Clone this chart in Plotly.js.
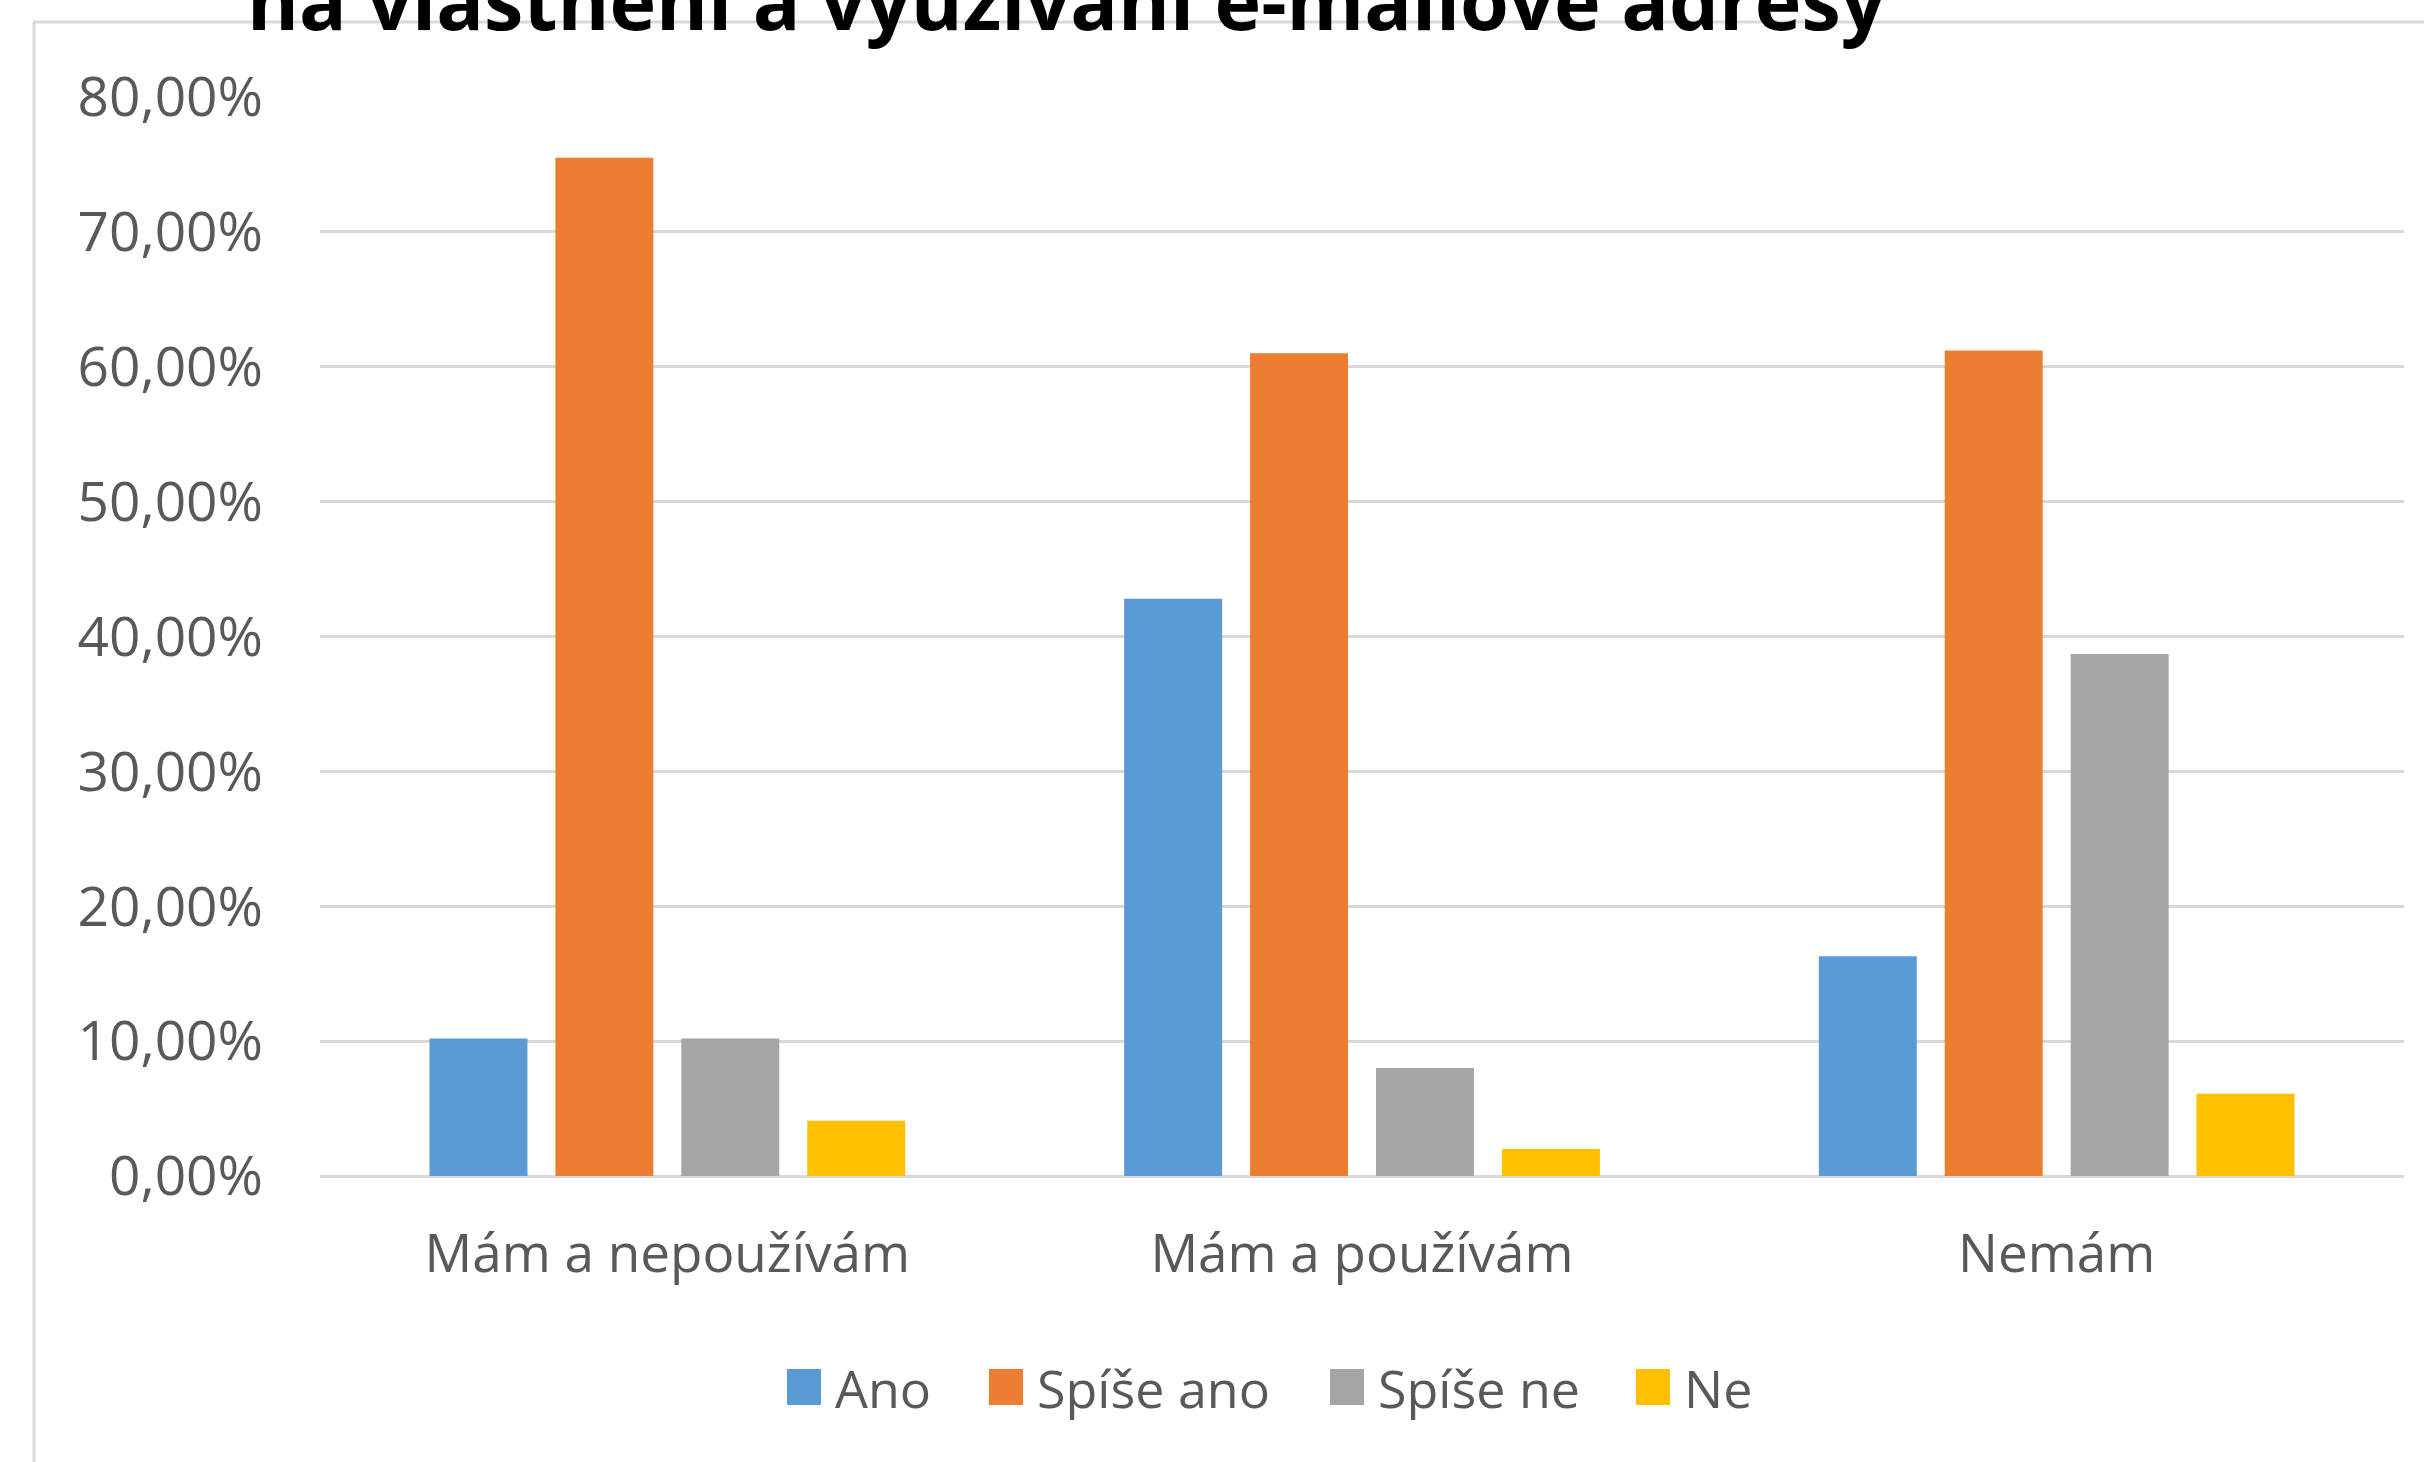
<!DOCTYPE html>
<html>
<head>
<meta charset="utf-8">
<script src="https://cdn.plot.ly/plotly-3.0.1.min.js"></script>
<style>html,body{margin:0;padding:0;background:#fff;}#chart{width:2424px;height:1462px;}</style>
</head>
<body>
<div id="chart"></div>
<script>
// ---- data ----
const categories = ["Mám a nepoužívám", "Mám a používám", "Nemám"];
const seriesNames = ["Ano", "Spíše ano", "Spíše ne", "Ne"];
const ano      = [10.2, 42.8, 16.3];
const spiseAno = [75.5, 61.0, 61.2];
const spiseNe  = [10.2, 8.0, 38.7];
const ne       = [4.1, 2.0, 6.1];
const titleText = "na vlastnění a využívání e-mailové adresy";

// ---- styles / layout constants ----
const colors = ["#5B9BD5", "#ED7D31", "#A5A5A5", "#FFC000"];
const W = 2424, H = 1462;
const PL = 320, PR = 2404, PT = 97, PB = 1176;
const xp = px => (px - PL) / (PR - PL);
const yp = py => (PB - py) / (PB - PT);
const FONT = "'Open Sans', sans-serif";
const TXT = "#595959";
const GRID = "#D9D9D9";

const seriesValues = [ano, spiseAno, spiseNe, ne];
const traces = seriesValues.map((vals, i) => ({
  type: "bar",
  name: seriesNames[i],
  x: categories,
  y: vals,
  marker: {color: colors[i], line: {width: 0}},
  showlegend: false,
  hoverinfo: "x+y+name"
}));

// manual legend (large square swatches)
const legendSwatchX = [787, 989, 1330, 1636];
const legendY0 = 1369, legendY1 = 1405, sw = 34;
const shapes = [
  // chart-area border (left and top)
  {type: "line", xref: "paper", yref: "paper", x0: xp(34), x1: xp(34), y0: yp(22), y1: yp(H + 20), line: {color: GRID, width: 3}, layer: "below"},
  {type: "line", xref: "paper", yref: "paper", x0: xp(33), x1: xp(W + 20), y0: yp(22), y1: yp(22), line: {color: GRID, width: 3}, layer: "below"}
];
const annotations = [];
seriesNames.forEach((n, i) => {
  shapes.push({type: "rect", xref: "paper", yref: "paper",
    x0: xp(legendSwatchX[i]), x1: xp(legendSwatchX[i] + sw),
    y0: yp(legendY1), y1: yp(legendY0),
    fillcolor: colors[i], line: {width: 0}});
  annotations.push({xref: "paper", yref: "paper", x: xp(legendSwatchX[i] + sw + 12), y: yp((legendY0 + legendY1) / 2),
    xanchor: "left", yanchor: "middle", showarrow: false, text: n,
    font: {family: FONT, size: 52, color: TXT}});
});

const layout = {
  width: W, height: H,
  margin: {l: PL, r: W - PR, t: PT, b: H - PB, pad: 0},
  paper_bgcolor: "#ffffff",
  plot_bgcolor: "#ffffff",
  separators: ", ",
  barmode: "group",
  bargap: 0.275,
  bargroupgap: 0.222,
  showlegend: false,
  title: {
    text: titleText,
    font: {family: FONT, size: 79, color: "#000000", weight: 700},
    xref: "container", yref: "container",
    x: 247 / W, xanchor: "left",
    y: 1 - 30 / H, yanchor: "bottom"
  },
  xaxis: {
    type: "category",
    showgrid: false, zeroline: false, showline: false,
    ticks: "",
    tickfont: {family: FONT, size: 53, color: TXT},
    ticklabelstandoff: 42
  },
  yaxis: {
    range: [0, 80],
    tickmode: "linear", tick0: 0, dtick: 10,
    tickformat: ".2f", ticksuffix: "%",
    showgrid: true, gridcolor: GRID, gridwidth: 3,
    zeroline: true, zerolinecolor: GRID, zerolinewidth: 3,
    showline: false, ticks: "",
    tickfont: {family: FONT, size: 55, color: TXT},
    ticklabelstandoff: 56
  },
  shapes: shapes,
  annotations: annotations
};

Plotly.newPlot("chart", traces, layout, {displayModeBar: false, responsive: false});
</script>
</body>
</html>
